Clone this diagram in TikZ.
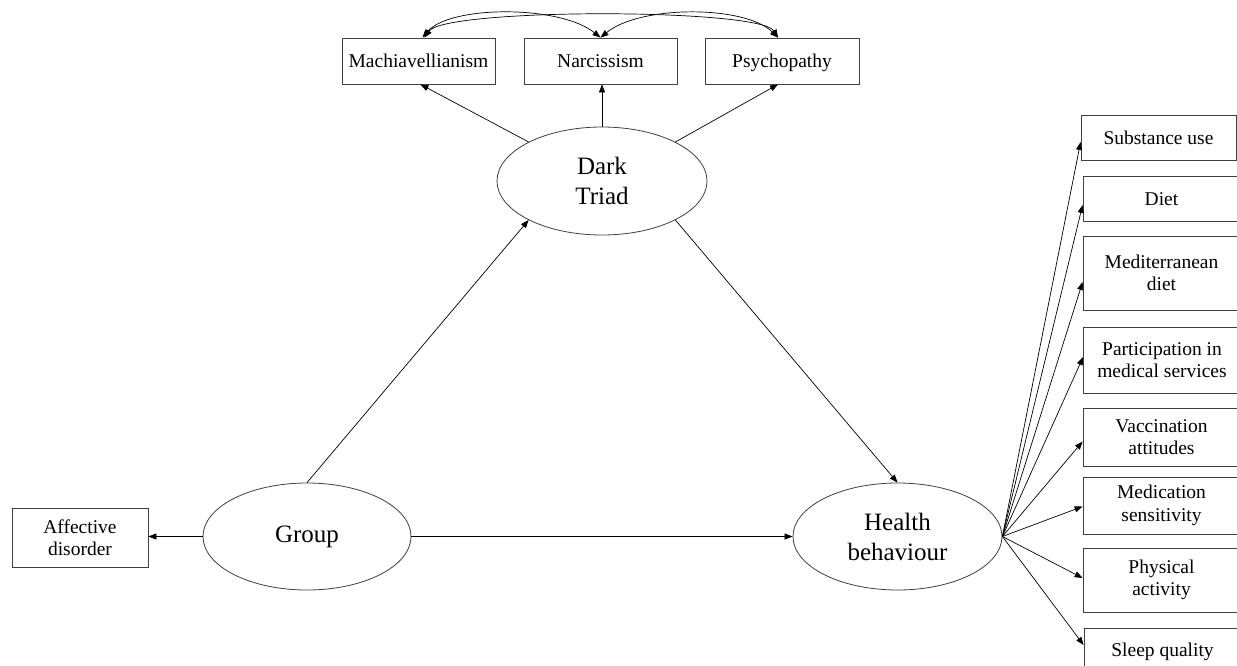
\documentclass[tikz,border=0pt]{standalone}
\usepackage{fontspec}
\setmainfont{Liberation Serif}
\usetikzlibrary{arrows.meta,shapes.geometric,calc}
\begin{document}
\begin{tikzpicture}[x=1pt,y=-1pt,
  box/.style={draw=black!75, line width=0.8pt, inner sep=0pt, align=center, font=\fontsize{19.5}{22.5}\selectfont},
  oneline/.style={text height=18pt, text depth=4.5pt},
  latent/.style={draw=black!75, line width=0.8pt, ellipse, inner sep=0pt, align=center, font=\fontsize{25}{30}\selectfont},
  arr/.style={line width=0.7pt, -{Triangle[length=8pt,width=6pt]}},
  cov/.style={line width=0.7pt, {Triangle[length=8pt,width=6pt]}-{Triangle[length=8pt,width=6pt]}}]
\clip (0,0) rectangle (1237,665);
\fill[white] (0,0) rectangle (1237,665);
% indicators of the Dark Triad
\node[box, oneline, minimum width=153pt, minimum height=46pt] (mach) at (418.5,61) {Machiavellianism};
\node[box, oneline, minimum width=153pt, minimum height=46pt] (narc) at (600.5,61) {Narcissism};
\node[box, oneline, minimum width=154pt, minimum height=46pt] (psy) at (782,61) {Psychopathy};
% latent variables
\node[latent, minimum width=210pt, minimum height=108pt] (dt) at (602,181) {Dark\\Triad};
\node[latent, minimum width=208pt, minimum height=107pt] (grp) at (307,536.5) {Group};
\node[latent, minimum width=209pt, minimum height=107pt] (hb) at (897.5,536.5) {Health\\behaviour};
\node[box, minimum width=136pt, minimum height=59pt] (aff) at (80,537.5) {Affective\\disorder};
% health behaviour indicators
\node[box, oneline, minimum width=155pt, minimum height=45pt] (sub) at (1158.5,137.5) {Substance use};
\node[box, oneline, minimum width=157pt, minimum height=45pt] (diet) at (1161.5,198.5) {Diet};
\node[box, minimum width=157pt, minimum height=74pt] (med) at (1161.5,273) {Mediterranean\\diet};
\node[box, minimum width=157pt, minimum height=66pt] (part) at (1162,360) {Participation in\\medical services};
\node[box, minimum width=157pt, minimum height=58pt] (vac) at (1161.5,437) {Vaccination\\attitudes};
\node[box, minimum width=157pt, minimum height=57pt] (medic) at (1161.5,505.5) {Medication\\sensitivity};
\node[box, minimum width=157pt, minimum height=64pt] (phys) at (1161.5,580) {Physical\\activity};
\node[box, oneline, minimum width=157pt, minimum height=44pt] (sleep) at (1162.5,650) {Sleep quality};
% paths
\draw[arr] (dt.152) -- ([xshift=2pt]mach.south);
\draw[arr] (dt.north) -- (dt.north |- narc.south);
\draw[arr] (dt.28) -- ([xshift=-4pt]psy.south);
\draw[arr] (grp.north) -- (dt.-152);
\draw[arr] (dt.-28) -- (hb.north);
\draw[arr] (grp.east) -- (hb.west);
\draw[arr] (grp.west) -- (grp.west -| aff.east);
\draw[arr] (hb.east) -- ([yshift=-4.5pt]sub.west);
\draw[arr] (hb.east) -- ([yshift=-6.5pt]diet.west);
\draw[arr] (hb.east) -- ([yshift=-9pt]med.west);
\draw[arr] (hb.east) -- ([yshift=3pt]part.west);
\draw[arr] (hb.east) -- ([yshift=-4.5pt]vac.west);
\draw[arr] (hb.east) -- ([yshift=-1pt]medic.west);
\draw[arr] (hb.east) -- ([yshift=2pt]phys.west);
\draw[arr] (hb.east) -- ([yshift=5pt]sleep.west);
% covariances
\draw[cov] ([xshift=4pt]mach.north) .. controls (450,5) and (560,5) .. (narc.north);
\draw[cov] (narc.north) .. controls (640,5) and (745,5) .. ([xshift=-4pt]psy.north);
\draw[cov] ([xshift=6pt]mach.north) .. controls (445,8) and (760,8) .. ([xshift=-4pt]psy.north);
\end{tikzpicture}
\end{document}
